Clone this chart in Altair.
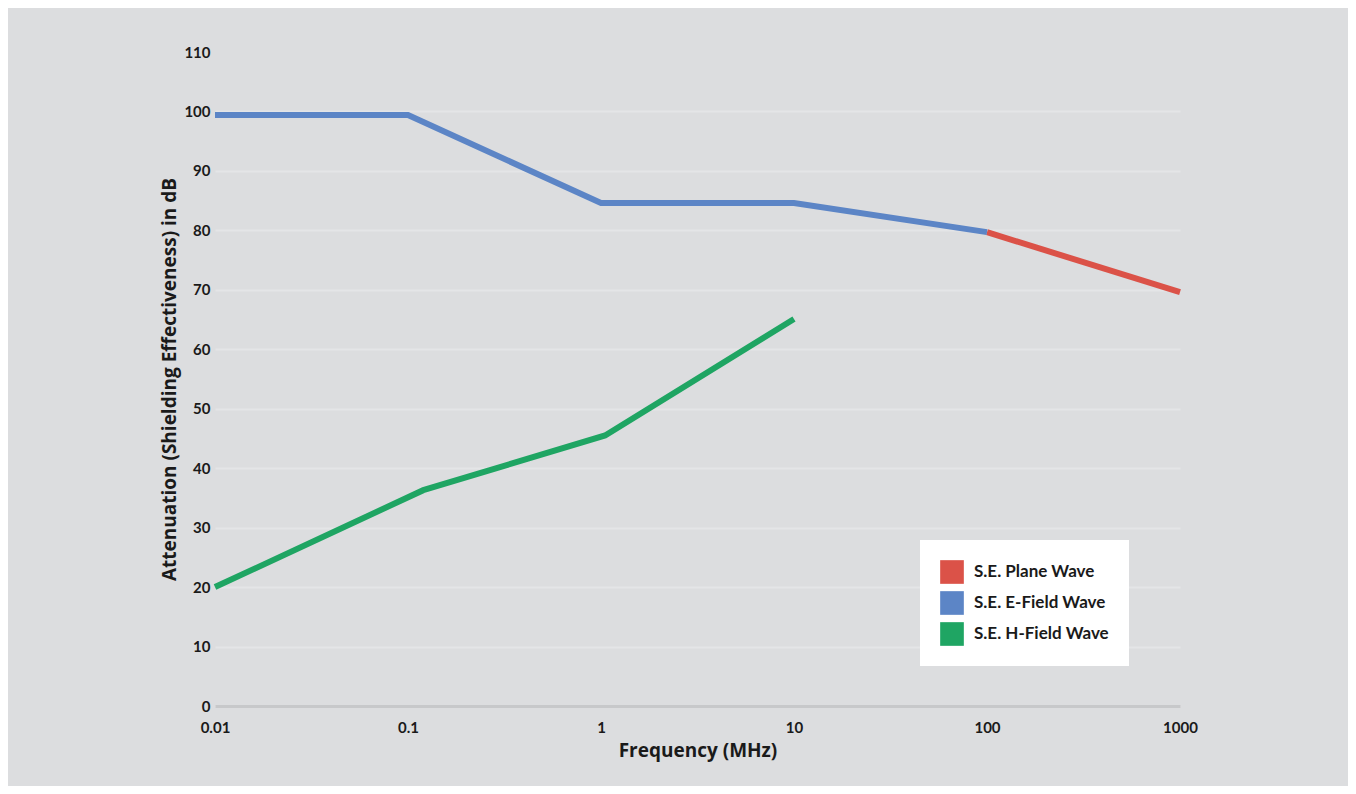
import altair as alt
import pandas as pd

series_names = ["S.E. Plane Wave", "S.E. E-Field Wave", "S.E. H-Field Wave"]
series_colors = ["#db5248", "#5c85c6", "#1fa563"]

plane_freq = [100, 1000]
plane_db = [79.7, 69.6]

efield_freq = [0.01, 0.1, 1, 10, 100]
efield_db = [99.4, 99.4, 84.6, 84.6, 79.7]

hfield_freq = [0.01, 0.12, 1.05, 10]
hfield_db = [20.0, 36.3, 45.5, 65.1]

x_ticks = [0.01, 0.1, 1, 10, 100, 1000]
y_ticks = list(range(0, 111, 10))

rows = []
for name, fr, db in [
    (series_names[0], plane_freq, plane_db),
    (series_names[1], efield_freq, efield_db),
    (series_names[2], hfield_freq, hfield_db),
]:
    for i, (f, d) in enumerate(zip(fr, db)):
        rows.append({"series": name, "freq": f, "db": d, "order": i})
df = pd.DataFrame(rows)

FONT = "Lato"
TITLE_FONT = "Open Sans"

x_enc = alt.X(
    "freq:Q",
    scale=alt.Scale(type="log", domain=[0.01, 1000], nice=False),
    axis=alt.Axis(
        values=x_ticks,
        labelExpr="format(datum.value, '~g')",
        title="Frequency (MHz)",
        grid=False,
        ticks=False,
        domain=True,
        domainColor="#c7c8ca",
        domainWidth=3,
        labelPadding=14,
        titlePadding=6,
        labelFlush=False,
    ),
)
y_enc = alt.Y(
    "db:Q",
    scale=alt.Scale(domain=[0, 110], nice=False),
    axis=alt.Axis(
        values=y_ticks,
        title="Attenuation (Shielding Effectiveness) in dB",
        grid=True,
        gridColor="#e4e5e7",
        gridWidth=2,
        gridOpacity={"condition": {"test": "datum.value >= 110", "value": 0}, "value": 1},
        ticks=False,
        domain=False,
        labelPadding=5,
        titlePadding=4,
    ),
)
color_scale = alt.Scale(domain=series_names, range=series_colors)

base = alt.Chart(df)

keys = base.mark_square(size=0, filled=True).encode(
    x=x_enc,
    y=y_enc,
    color=alt.Color(
        "series:N",
        scale=color_scale,
        legend=alt.Legend(
            title=None,
            orient="none",
            legendX=705,
            legendY=488,
            fillColor="white",
            padding=20,
            symbolType="square",
            symbolSize=560,
            symbolStrokeWidth=0,
            symbolOpacity=1,
            labelFontSize=17,
            labelFont=FONT,
            labelFontWeight="bold",
            labelColor="#1a1a1a",
            labelOffset=10,
            rowPadding=7,
        ),
    ),
)

lines = base.mark_line(strokeWidth=6, strokeCap="butt", strokeJoin="miter").encode(
    x=x_enc,
    y=y_enc,
    color=alt.Color("series:N", scale=color_scale, legend=None),
    detail="series:N",
    order="order:Q",
)

chart = (
    alt.layer(keys, lines)
    .resolve_legend(color="independent")
    .properties(
        width=965,
        height=654,
        background="#dcdddf",
        padding={"left": 207, "top": 44, "right": 168, "bottom": 80},
        autosize=alt.AutoSizeParams(type="none"),
    )
    .configure_view(stroke=None)
    .configure_axis(
        labelFont=FONT,
        labelFontWeight="bold",
        labelFontSize=15,
        labelColor="#1a1a1a",
        titleFont=TITLE_FONT,
        titleFontWeight="bold",
        titleFontSize=19,
        titleColor="#1a1a1a",
    )
)

chart.save("out.html", embed_options={"renderer": "svg", "actions": False})
